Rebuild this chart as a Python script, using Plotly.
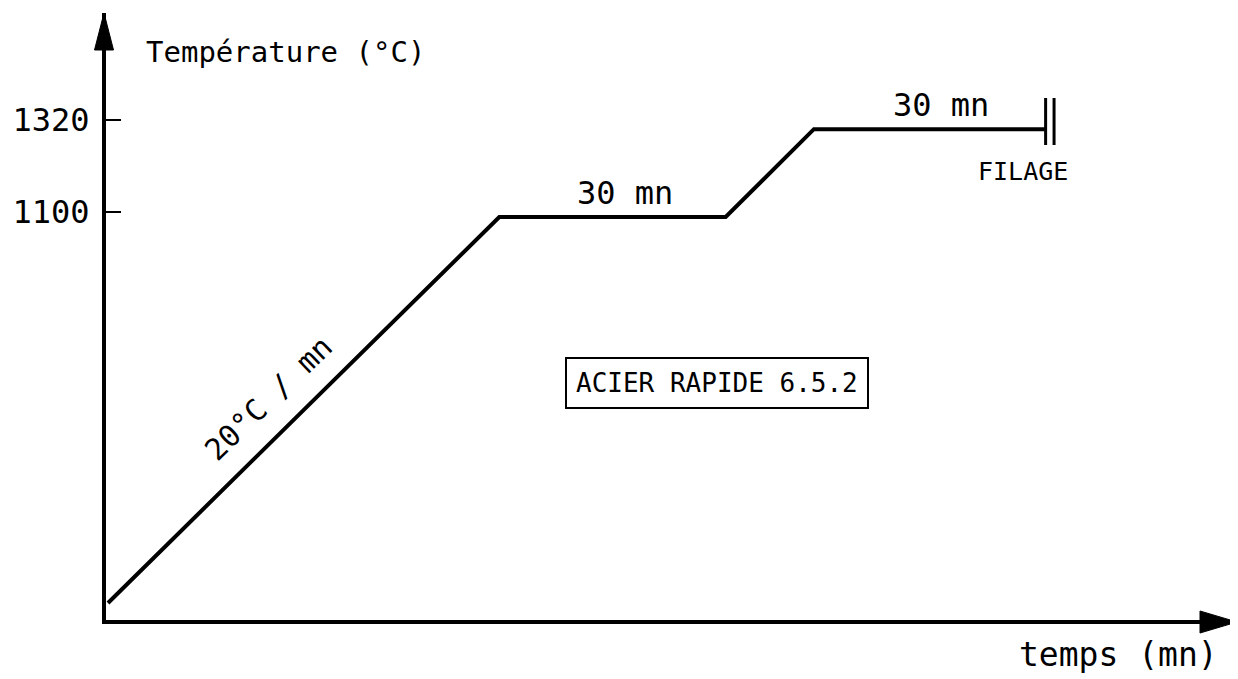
import plotly.graph_objects as go

# ---- data ----
time_min = [0, 51, 80.5, 92, 122.2]
temp_c = [165, 1088, 1088, 1298, 1298]
y_ticks = [1100, 1320]
y_tick_labels = ["1100", "1320"]

# ---- geometry (the page body has an 8 px margin) ----
OFF = 8
W, H = 1230, 671
L, R, T, B = 98, 0, 5, 59
sx0, sx1 = OFF + L, OFF + W - R          # plot area in screen px
sy0, sy1 = OFF + T, OFF + H - B
PX_PER_MIN = 7.7
PX_PER_DEG = 92 / 220
x_range = [-(sx0 - 104) / PX_PER_MIN, (sx1 - 104) / PX_PER_MIN]
y_range = [1100 - (sy1 - 212) / PX_PER_DEG, 1100 + (212 - sy0) / PX_PER_DEG]

FONT = "DejaVu Sans Mono"


def px_x(px):
    return x_range[0] + (px - sx0) / (sx1 - sx0) * (x_range[1] - x_range[0])


def px_y(py):
    return y_range[0] + (sy1 - py) / (sy1 - sy0) * (y_range[1] - y_range[0])


def paper_x(px):
    return (px - sx0) / (sx1 - sx0)


def paper_y(py):
    return (sy1 - py) / (sy1 - sy0)


fig = go.Figure()
fig.add_trace(go.Scatter(
    x=time_min, y=temp_c, mode="lines",
    line=dict(color="black", width=4),
    hoverinfo="skip", showlegend=False,
))

# double bar (FILAGE) at the end of the last plateau
t_end = time_min[-1]
for dx in (0, 1.1):
    fig.add_shape(type="line", xref="x", yref="y",
                  x0=t_end + dx, x1=t_end + dx, y0=px_y(145), y1=px_y(98),
                  line=dict(color="black", width=3))

# axis arrowheads
ax_x = paper_x(104)
ax_y = paper_y(622)
fig.add_shape(type="path", xref="paper", yref="paper",
              path=f"M {ax_x},{paper_y(13)} L {paper_x(94.5)},{paper_y(50)} "
                   f"L {paper_x(113.5)},{paper_y(50)} Z",
              fillcolor="black", line=dict(color="black", width=1))
fig.add_shape(type="path", xref="paper", yref="paper",
              path=f"M {paper_x(1237)},{ax_y} L {paper_x(1200)},{paper_y(611)} "
                   f"L {paper_x(1200)},{paper_y(633)} Z",
              fillcolor="black", line=dict(color="black", width=1))

ann = []


def add_text(text, x, y, size, xanchor="center", yanchor="middle", **kw):
    ann.append(dict(text=text, x=paper_x(x), y=paper_y(y), xref="paper", yref="paper",
                    showarrow=False, xanchor=xanchor, yanchor=yanchor,
                    font=dict(family=FONT, size=size, color="black"), **kw))


add_text("Température (°C)", 144, 52, 29, xanchor="left")
add_text("30 mn", 625, 193, 32)
add_text("30 mn", 941, 105, 32)
add_text("FILAGE", 1023, 172, 25)
add_text("temps (mn)", 1118, 655, 33)
add_text("20°C / mn", 268, 398, 30, textangle=-44)
add_text("ACIER RAPIDE 6.5.2", 717, 383, 26,
         bordercolor="black", borderwidth=2, borderpad=9)
fig.update_layout(annotations=ann)

fig.update_xaxes(range=x_range, showline=True, linewidth=4, linecolor="black",
                 showgrid=False, zeroline=False, showticklabels=False, ticks="")
fig.update_yaxes(range=y_range, showline=True, linewidth=4, linecolor="black",
                 showgrid=False, zeroline=False,
                 tickmode="array", tickvals=y_ticks, ticktext=y_tick_labels,
                 ticks="inside", ticklen=15, tickwidth=2, tickcolor="black",
                 ticklabelstandoff=6,
                 tickfont=dict(family=FONT, size=32, color="black"))

fig.update_layout(width=W, height=H, margin=dict(l=L, r=R, t=T, b=B),
                  plot_bgcolor="white", paper_bgcolor="white", showlegend=False)

fig.write_html("out.html")
